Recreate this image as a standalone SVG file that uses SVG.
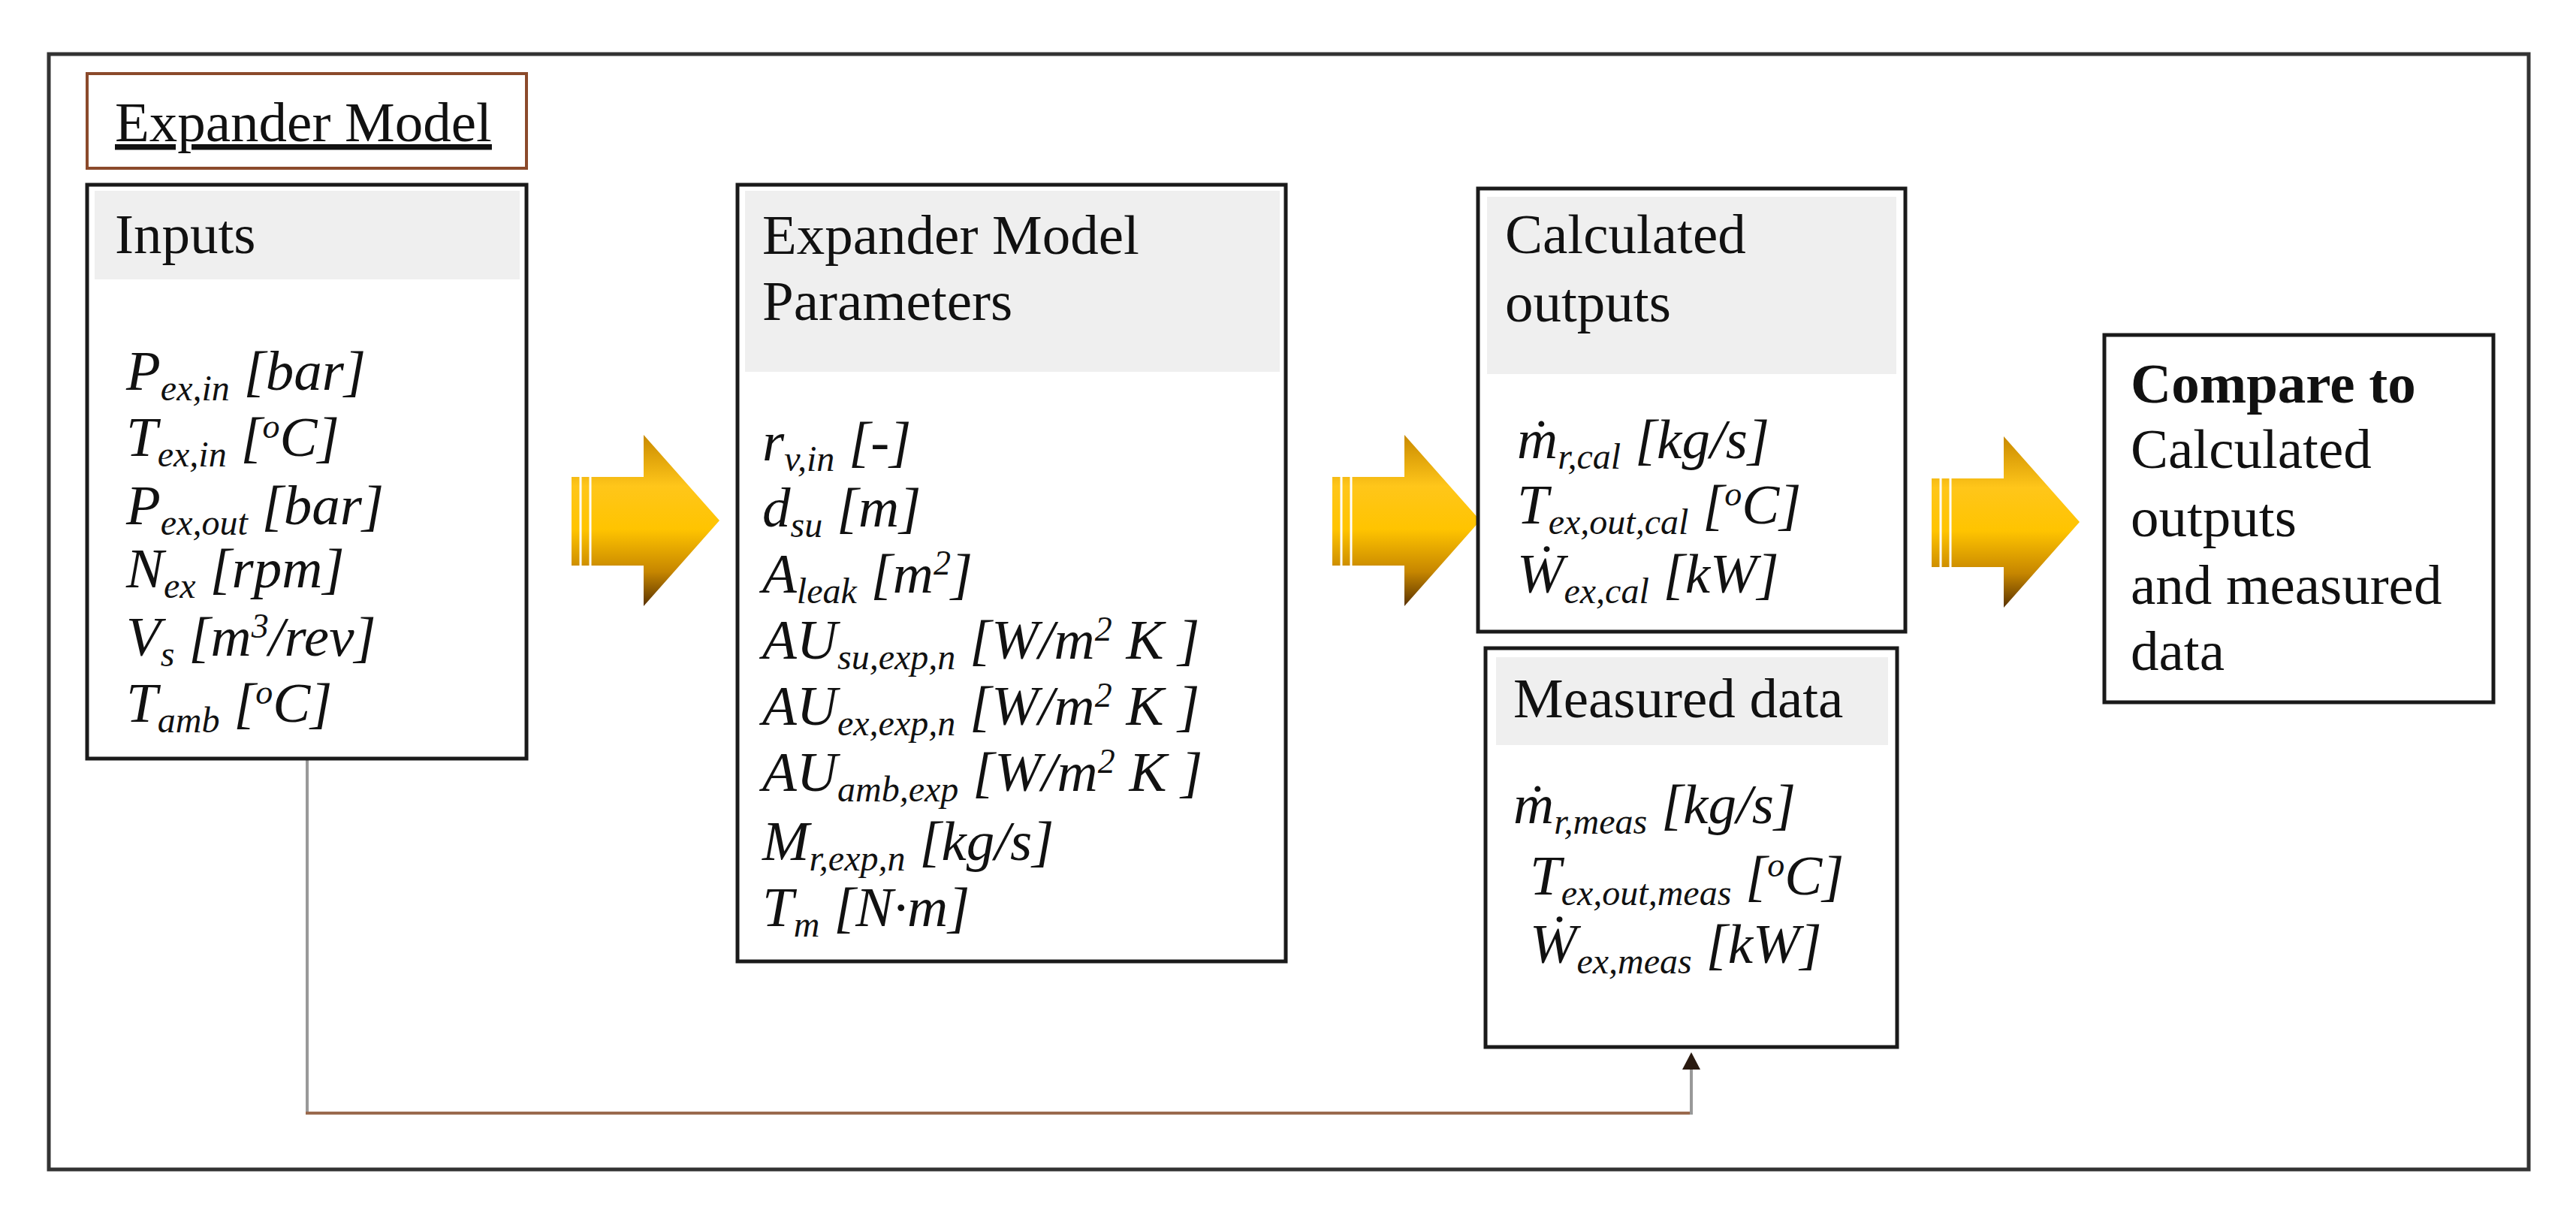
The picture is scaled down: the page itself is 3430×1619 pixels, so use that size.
<svg xmlns="http://www.w3.org/2000/svg" width="3430" height="1619" viewBox="0 0 3430 1619">
<style>
text{font-family:"Liberation Serif","Times New Roman",serif;font-size:75px;fill:#111}
.it{font-style:italic}
.sub{font-size:48px}
.sup{font-size:46px}
.box{fill:#fff;stroke:#1a1a1a;stroke-width:5}
.hdr{fill:#efefef}
</style>
<defs>
<linearGradient id="ag" x1="0" y1="0" x2="0" y2="1">
<stop offset="0" stop-color="#c98a00"/>
<stop offset="0.3" stop-color="#ffc61a"/>
<stop offset="0.55" stop-color="#ffc400"/>
<stop offset="0.8" stop-color="#c68600"/>
<stop offset="1" stop-color="#5a3300"/>
</linearGradient>
<path id="arr" d="M0,56 H96 V0 L197,114 L96,228 V174 H0 Z" fill="url(#ag)"/>
<marker id="mk" markerWidth="10" markerHeight="10" refX="5" refY="9" orient="auto-start-reverse" markerUnits="userSpaceOnUse" viewBox="0 0 10 10">
</marker>
</defs>
<rect x="0" y="0" width="3430" height="1619" fill="#fff"/>
<rect id="frame" x="65" y="72" width="3302" height="1485" fill="none" stroke="#333" stroke-width="5"/>

<g id="title">
<rect x="116" y="98" width="585" height="126" fill="#fff" stroke="#8b4a2b" stroke-width="4"/>
<text x="153" y="188" text-decoration="underline">Expander Model</text>
</g>

<g id="connectors">
<polyline points="409,1010 409,1482 2252,1482" fill="none" stroke="#9a6a4e" stroke-width="4"/>
<line x1="409" y1="1010" x2="409" y2="1480" stroke="#999" stroke-width="4"/>
<line x1="2252" y1="1484" x2="2252" y2="1420" stroke="#999" stroke-width="4"/>
<polygon points="2252,1401 2240,1424 2264,1424" fill="#2a1a10"/>
</g>

<g id="inputs">
<rect class="box" x="116" y="246" width="585" height="764"/>
<rect class="hdr" x="126" y="254" width="566" height="118"/>
<text x="153" y="337">Inputs</text>
<text class="it" x="168" y="519">P<tspan class="sub" dy="14">ex,in</tspan><tspan dy="-14"> [bar]</tspan></text>
<text class="it" x="168" y="607">T<tspan class="sub" dy="14">ex,in</tspan><tspan dy="-14"> [</tspan><tspan class="sup" dy="-24">o</tspan><tspan dy="24">C]</tspan></text>
<text class="it" x="168" y="698">P<tspan class="sub" dy="14">ex,out</tspan><tspan dy="-14"> [bar]</tspan></text>
<text class="it" x="168" y="782">N<tspan class="sub" dy="14">ex</tspan><tspan dy="-14"> [rpm]</tspan></text>
<text class="it" x="168" y="873">V<tspan class="sub" dy="14">s</tspan><tspan dy="-14"> [m</tspan><tspan class="sup" dy="-24">3</tspan><tspan dy="24">/rev]</tspan></text>
<text class="it" x="168" y="961">T<tspan class="sub" dy="14">amb</tspan><tspan dy="-14"> [</tspan><tspan class="sup" dy="-24">o</tspan><tspan dy="24">C]</tspan></text>
</g>

<g id="arrow1"><use href="#arr" x="761" y="579"/><line x1="773" y1="635" x2="773" y2="753" stroke="#fff" stroke-width="3"/><line x1="786" y1="635" x2="786" y2="753" stroke="#fff" stroke-width="3"/></g>

<g id="params">
<rect class="box" x="982" y="246" width="730" height="1034"/>
<rect class="hdr" x="992" y="254" width="712" height="241"/>
<text x="1015" y="338">Expander Model</text>
<text x="1015" y="426">Parameters</text>
<text class="it" x="1015" y="613">r<tspan class="sub" dy="14">v,in</tspan><tspan dy="-14"> [-]</tspan></text>
<text class="it" x="1015" y="701">d<tspan class="sub" dy="14">su</tspan><tspan dy="-14"> [m]</tspan></text>
<text class="it" x="1015" y="789">A<tspan class="sub" dy="14">leak</tspan><tspan dy="-14"> [m</tspan><tspan class="sup" dy="-24">2</tspan><tspan dy="24">]</tspan></text>
<text class="it" x="1015" y="877">AU<tspan class="sub" dy="14">su,exp,n</tspan><tspan dy="-14"> [W/m</tspan><tspan class="sup" dy="-24">2</tspan><tspan dy="24"> K ]</tspan></text>
<text class="it" x="1015" y="965">AU<tspan class="sub" dy="14">ex,exp,n</tspan><tspan dy="-14"> [W/m</tspan><tspan class="sup" dy="-24">2</tspan><tspan dy="24"> K ]</tspan></text>
<text class="it" x="1015" y="1053">AU<tspan class="sub" dy="14">amb,exp</tspan><tspan dy="-14"> [W/m</tspan><tspan class="sup" dy="-24">2</tspan><tspan dy="24"> K ]</tspan></text>
<text class="it" x="1015" y="1145">M<tspan class="sub" dy="14">r,exp,n</tspan><tspan dy="-14"> [kg/s]</tspan></text>
<text class="it" x="1015" y="1233">T<tspan class="sub" dy="14">m</tspan><tspan dy="-14"> [N·m]</tspan></text>
</g>

<g id="arrow2"><use href="#arr" x="1774" y="579"/><line x1="1786" y1="635" x2="1786" y2="753" stroke="#fff" stroke-width="3"/><line x1="1799" y1="635" x2="1799" y2="753" stroke="#fff" stroke-width="3"/></g>

<g id="calc">
<rect class="box" x="1968" y="251" width="569" height="590" stroke-width="7"/>
<rect class="hdr" x="1980" y="262" width="545" height="236"/>
<text x="2004" y="337">Calculated</text>
<text x="2004" y="428">outputs</text>
<text class="it" x="2020" y="610">ṁ<tspan class="sub" dy="14">r,cal</tspan><tspan dy="-14"> [kg/s]</tspan></text>
<text class="it" x="2020" y="697">T<tspan class="sub" dy="14">ex,out,cal</tspan><tspan dy="-14"> [</tspan><tspan class="sup" dy="-24">o</tspan><tspan dy="24">C]</tspan></text>
<text class="it" x="2020" y="789">Ẇ<tspan class="sub" dy="14">ex,cal</tspan><tspan dy="-14"> [kW]</tspan></text>
</g>

<g id="measured">
<rect class="box" x="1978" y="863" width="548" height="531" stroke-width="8"/>
<rect class="hdr" x="1992" y="875" width="522" height="117"/>
<text x="2015" y="955">Measured data</text>
<text class="it" x="2015" y="1096">ṁ<tspan class="sub" dy="14">r,meas</tspan><tspan dy="-14"> [kg/s]</tspan></text>
<text class="it" x="2037" y="1191">T<tspan class="sub" dy="14">ex,out,meas</tspan><tspan dy="-14"> [</tspan><tspan class="sup" dy="-24">o</tspan><tspan dy="24">C]</tspan></text>
<text class="it" x="2037" y="1282">Ẇ<tspan class="sub" dy="14">ex,meas</tspan><tspan dy="-14"> [kW]</tspan></text>
</g>

<g id="arrow3"><use href="#arr" x="2572" y="581"/><line x1="2584" y1="637" x2="2584" y2="755" stroke="#fff" stroke-width="3"/><line x1="2597" y1="637" x2="2597" y2="755" stroke="#fff" stroke-width="3"/></g>

<g id="compare">
<rect class="box" x="2802" y="446" width="518" height="489"/>
<text x="2837" y="536" font-weight="bold">Compare to</text>
<text x="2837" y="623">Calculated</text>
<text x="2837" y="714">outputs</text>
<text x="2837" y="804">and measured</text>
<text x="2837" y="892">data</text>
</g>
</svg>
